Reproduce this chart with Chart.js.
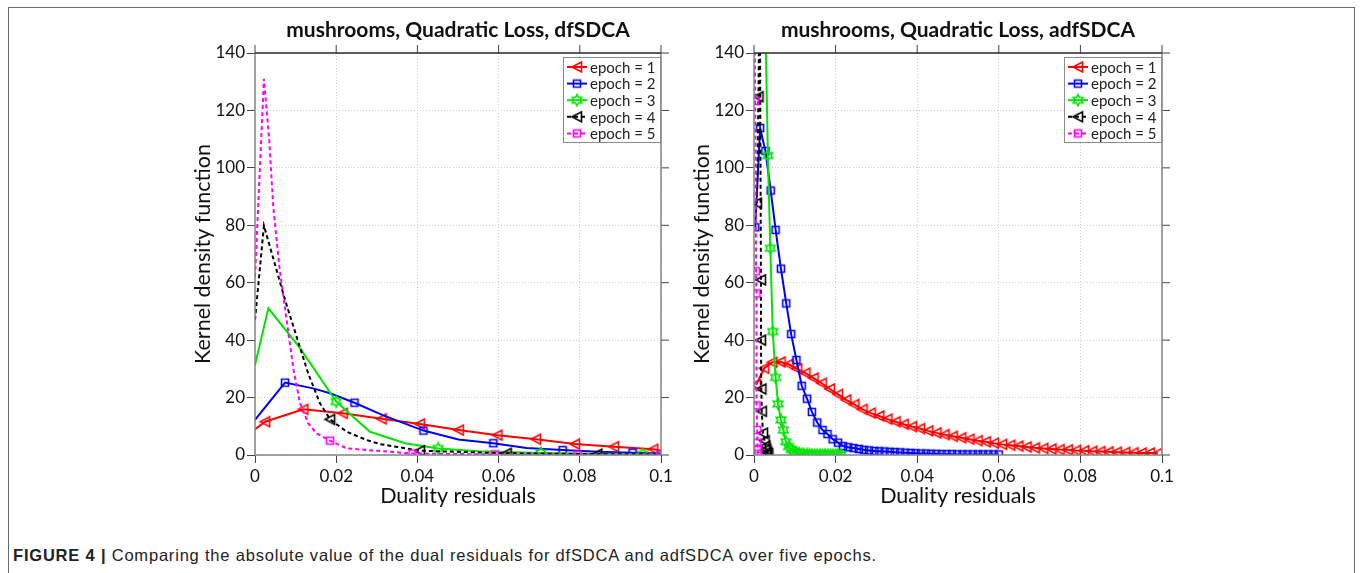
<!DOCTYPE html>
<html>
<head>
<meta charset="utf-8">
<script src="https://cdn.jsdelivr.net/npm/chart.js@4.4.1/dist/chart.umd.min.js"></script>
<style>
  body { margin: 0; width: 1363px; height: 573px; background: #fff; position: relative; overflow: hidden; }
  #frame { position: absolute; left: 8px; top: 7px; width: 1345px; height: 600px; border: 1.5px solid #6b6b6b; border-bottom: none; }
  canvas { position: absolute; top: 0; }
  #c1 { left: 150px; }
  #c2 { left: 649px; }
  #caption { position: absolute; left: 13px; top: 546px; font-family: "Liberation Sans", Arial, sans-serif; font-size: 16.5px; letter-spacing: 0.8px; color: #222; white-space: nowrap; }
</style>
</head>
<body>
<div id="frame"></div>
<canvas id="c1" width="540" height="520"></canvas>
<canvas id="c2" width="540" height="520"></canvas>
<div id="caption"><b>FIGURE 4 |</b> Comparing the absolute value of the dual residuals for dfSDCA and adfSDCA over five epochs.</div>
<script>
// axes
const xTicks = [0, 0.02, 0.04, 0.06, 0.08, 0.1];
const yTicks = [0, 20, 40, 60, 80, 100, 120, 140];
const plotTitles = ['mushrooms, Quadratic Loss, dfSDCA', 'mushrooms, Quadratic Loss, adfSDCA'];
const xTitle = 'Duality residuals';
const yTitle = 'Kernel density function';
const epochNames = ['epoch = 1', 'epoch = 2', 'epoch = 3', 'epoch = 4', 'epoch = 5'];

// dfSDCA (left) - line vertices, marker indices
const dfX1 = [0, 0.0025, 0.0119, 0.0216, 0.0312, 0.0406, 0.0502, 0.0597, 0.0692, 0.0788, 0.0884, 0.0981, 0.1];
const dfY1 = [9.0, 11.6, 15.9, 14.5, 12.6, 10.8, 8.7, 6.9, 5.5, 3.8, 2.9, 2.0, 1.6];
const dfMark1 = [1, 2, 3, 4, 5, 6, 7, 8, 9, 10, 11];

const dfX2 = [0, 0.0074, 0.0143, 0.0185, 0.0245, 0.0316, 0.0415, 0.0501, 0.0587, 0.0669, 0.0758, 0.0845, 0.093, 0.1];
const dfY2 = [12.2, 25.2, 23.2, 21.5, 18.2, 13.8, 8.5, 5.4, 4.1, 2.4, 1.7, 1.1, 0.8, 0.5];
const dfMark2 = [1, 4, 6, 8, 10, 12];

const dfX3 = [0, 0.0033, 0.0111, 0.02, 0.0283, 0.037, 0.0451, 0.055, 0.0704, 0.0955, 0.1];
const dfY3 = [31.3, 51.1, 37.2, 18.6, 8.1, 4.1, 2.3, 1.3, 0.7, 0.3, 0.2];
const dfMark3 = [3, 6, 8, 9];

const dfX4 = [0, 0.0022, 0.0074, 0.0131, 0.016, 0.0185, 0.0226, 0.0275, 0.0308, 0.0406, 0.062, 0.0843, 0.1];
const dfY4 = [47, 79.9, 54, 28.4, 18, 12.4, 8.1, 5.2, 3.8, 1.5, 0.6, 0.3, 0.2];
const dfMark4 = [5, 9, 10, 11];

const dfX5 = [0, 0.0022, 0.0035, 0.0045, 0.006, 0.0078, 0.0095, 0.0111, 0.0131, 0.0152, 0.0185, 0.0226, 0.0388, 0.0591, 0.0795, 0.0998];
const dfY5 = [62, 131, 109.7, 86.5, 65.6, 47, 29.6, 18, 11, 7.5, 5.0, 2.3, 0.5, 0.2, 0.1, 0.05];
const dfMark5 = [10, 12, 13, 14, 15];

// adfSDCA (right) - every point has a marker
const adfX1 = [0.0005, 0.0025, 0.0045, 0.0065, 0.0085, 0.0106, 0.0126, 0.0146, 0.0166, 0.0186, 0.0206, 0.0226, 0.0246, 0.0266, 0.0286, 0.0307, 0.0327, 0.0347, 0.0367, 0.0387, 0.0407, 0.0427, 0.0447, 0.0467, 0.0487, 0.0508, 0.0528, 0.0548, 0.0568, 0.0588, 0.0608, 0.0628, 0.0648, 0.0668, 0.0688, 0.0709, 0.0729, 0.0749, 0.0769, 0.0789, 0.0809, 0.0829, 0.0849, 0.0869, 0.0889, 0.091, 0.093, 0.095, 0.097, 0.099];
const adfY1 = [24.4, 30.2, 32.3, 32.4, 31.6, 30.0, 28.5, 26.8, 25.0, 23.0, 21.1, 19.2, 17.6, 15.9, 14.6, 13.6, 12.5, 11.6, 10.7, 9.9, 9.2, 8.4, 7.7, 7.1, 6.5, 6.0, 5.5, 5.0, 4.6, 4.1, 3.7, 3.4, 3.1, 2.8, 2.5, 2.3, 2.1, 1.9, 1.8, 1.6, 1.5, 1.3, 1.2, 1.1, 1.0, 0.9, 0.8, 0.7, 0.7, 0.6];

const adfX2 = [0.0003, 0.0015, 0.0028, 0.0041, 0.0053, 0.0066, 0.0079, 0.0091, 0.0104, 0.0117, 0.013, 0.0142, 0.0155, 0.0168, 0.018, 0.0193, 0.0206, 0.0218, 0.0231, 0.0244, 0.0257, 0.0269, 0.0282, 0.0295, 0.0307, 0.032, 0.0333, 0.0345, 0.0358, 0.0371, 0.0384, 0.0396, 0.0409, 0.0422, 0.0434, 0.0447, 0.046, 0.0472, 0.0485, 0.0498, 0.0511, 0.0523, 0.0536, 0.0549, 0.0561, 0.0574, 0.0587, 0.06];
const adfY2 = [79.3, 113.9, 105.9, 92.1, 78.4, 64.9, 52.8, 42.1, 33.1, 24.1, 19.6, 15.0, 11.3, 8.7, 7.3, 5.5, 4.3, 3.1, 2.7, 2.4, 2.1, 1.8, 1.6, 1.4, 1.3, 1.2, 1.1, 1.0, 0.9, 0.8, 0.7, 0.6, 0.5, 0.5, 0.4, 0.4, 0.3, 0.3, 0.3, 0.2, 0.2, 0.2, 0.2, 0.2, 0.2, 0.2, 0.2, 0.2];

const adfX3 = [0.0015, 0.0021, 0.0028, 0.0034, 0.004, 0.0046, 0.0053, 0.0059, 0.0066, 0.0072, 0.0078, 0.0085, 0.0091, 0.0098, 0.0104, 0.011, 0.0117, 0.0123, 0.013, 0.0136, 0.0142, 0.0149, 0.0155, 0.0162, 0.0168, 0.0174, 0.0181, 0.0187, 0.0194, 0.02, 0.0206, 0.0213];
const adfY3 = [230, 245, 150, 104.3, 72, 43, 27, 17.8, 12.2, 8.7, 4.6, 2.9, 1.9, 1.2, 0.8, 0.6, 0.4, 0.3, 0.2, 0.2, 0.1, 0.1, 0.1, 0.1, 0.1, 0.1, 0.1, 0.1, 0.1, 0.1, 0.1, 0.1];

const adfX4 = [0.0007, 0.0011, 0.0014, 0.0017, 0.0017, 0.0018, 0.0019, 0.0022, 0.0026, 0.0028, 0.003, 0.0032, 0.0035];
const adfY4 = [87.7, 124.8, 175, 61, 40, 23, 15.2, 7.6, 5.0, 3.1, 1.9, 1.0, 0.5];

const adfX5 = [0.0001, 0.0003, 0.0005, 0.0006, 0.0006, 0.0008, 0.0008, 0.0009, 0.001];
const adfY5 = [160, 123.3, 64, 56.3, 17.3, 8.7, 4.3, 2.0, 0.5];

// styling per epoch
const epochColors = ['#ff0000', '#0000ff', '#00e600', '#000000', '#ff00ff'];
const epochDashes = [[], [], [], [4, 3], [4, 3]];
const epochMarkers = ['tri', 'sq', 'hex', 'tri', 'sq'];

function makeMarker(kind, color) {
  const c = document.createElement('canvas');
  c.width = 14; c.height = 14;
  const g = c.getContext('2d');
  const m = 7;
  g.strokeStyle = color;
  g.lineWidth = 1.6;
  g.beginPath();
  if (kind === 'tri') {
    g.moveTo(m - 5, m); g.lineTo(m + 4.5, m - 5); g.lineTo(m + 4.5, m + 5); g.closePath();
  } else if (kind === 'sq') {
    g.rect(m - 3.5, m - 3.5, 7, 7);
  } else {
    for (let i = 0; i < 12; i++) {
      const r = i % 2 === 0 ? 5.5 : 3.1;
      const ang = -Math.PI / 2 + i * Math.PI / 6;
      const px = m + r * Math.cos(ang), py = m + r * Math.sin(ang);
      if (i === 0) g.moveTo(px, py); else g.lineTo(px, py);
    }
    g.closePath();
  }
  g.stroke();
  return c;
}
const sprites = epochMarkers.map((k, i) => makeMarker(k, epochColors[i]));

function buildDatasets(xs, ys, marks) {
  const out = [];
  for (let k = 0; k < 5; k++) {
    const pts = xs[k].map((x, i) => ({ x: x, y: ys[k][i] }));
    const markPts = marks ? marks[k].map(i => pts[i]) : pts;
    out.push({
      data: pts, showLine: true, borderColor: epochColors[k], borderWidth: 2,
      borderDash: epochDashes[k], pointRadius: 0, order: 5 - k
    });
    out.push({
      data: markPts, showLine: false, pointStyle: sprites[k], pointRadius: 5,
      order: 4.5 - k
    });
  }
  return out;
}

function line(ctx, x1, y1, x2, y2) {
  ctx.beginPath(); ctx.moveTo(x1, y1); ctx.lineTo(x2, y2); ctx.stroke();
}

const framePlugin = {
  id: 'frameAndLegend',
  afterDraw(chart) {
    const { ctx, chartArea: a, scales } = chart;
    ctx.save();
    // ticks on top and right side
    ctx.strokeStyle = '#444';
    ctx.lineWidth = 1;
    xTicks.forEach(v => { const px = scales.x.getPixelForValue(v); line(ctx, px, a.top, px, a.top - 8); });
    yTicks.forEach(v => { const py = scales.y.getPixelForValue(v); line(ctx, a.right, py, a.right + 8, py); });
    // axes box
    ctx.lineWidth = 1.5;
    ctx.strokeStyle = '#858585';
    line(ctx, a.left, a.top, a.left, a.bottom);
    line(ctx, a.left, a.bottom, a.right, a.bottom);
    line(ctx, a.right, a.top, a.right, a.bottom);
    ctx.strokeStyle = '#2a2a2a';
    line(ctx, a.left, a.top, a.right, a.top);

    // legend
    const w = 97, h = 85;
    const left = a.right - w - 1, top = a.top + 4;
    ctx.fillStyle = '#fff';
    ctx.fillRect(left, top, w, h);
    ctx.strokeStyle = '#8c8c8c';
    ctx.lineWidth = 1;
    ctx.strokeRect(left + 0.5, top + 0.5, w, h);
    ctx.font = '15px Lato';
    ctx.textBaseline = 'middle';
    epochNames.forEach((name, k) => {
      const y = top + 10 + k * 16.6;
      ctx.strokeStyle = epochColors[k];
      ctx.lineWidth = 2;
      ctx.setLineDash(epochDashes[k]);
      line(ctx, left + 4, y, left + 24, y);
      ctx.setLineDash([]);
      const m = sprites[k];
      ctx.drawImage(m, left + 14 - m.width / 2, y - m.height / 2);
      ctx.fillStyle = '#222';
      ctx.fillText(name, left + 27, y + 1);
    });
    ctx.restore();
  }
};

Chart.defaults.font.family = 'Lato';
Chart.defaults.color = '#111';

function makeChart(id, title, datasets, rightPad) {
  return new Chart(document.getElementById(id), {
    type: 'scatter',
    data: { datasets: datasets },
    options: {
      responsive: false,
      animation: false,
      devicePixelRatio: 1,
      layout: { padding: { left: 0, right: rightPad, top: 0, bottom: 0 } },
      plugins: {
        legend: { display: false },
        tooltip: { enabled: false },
        title: {
          display: true, text: title, fullSize: false, color: '#111',
          font: { size: 21, weight: 'bold' }, padding: { top: 17.5, bottom: 10.3 }
        }
      },
      scales: {
        x: {
          type: 'linear', min: 0, max: 0.1,
          afterBuildTicks: s => { s.ticks = xTicks.map(v => ({ value: v })); },
          afterFit: s => { s.height = 65; },
          ticks: { font: { size: 17 }, color: '#111', padding: 3, maxRotation: 0,
            callback: v => String(+v.toFixed(2)) },
          grid: { color: '#cfcfcf', tickColor: '#444', tickLength: 8 },
          border: { display: false, dash: [1, 2] },
          title: { display: true, text: xTitle, font: { size: 21.5 }, color: '#111', padding: { bottom: 11 } }
        },
        y: {
          min: 0, max: 140,
          afterBuildTicks: s => { s.ticks = yTicks.map(v => ({ value: v })); },
          afterFit: s => { s.width = 105; },
          ticks: { font: { size: 17 }, color: '#111', padding: 2 },
          grid: { color: '#cfcfcf', tickColor: '#444', tickLength: 8 },
          border: { display: false, dash: [1, 2] },
          title: { display: true, text: yTitle, font: { size: 21.5 }, color: '#111', padding: { top: 40 } }
        }
      }
    },
    plugins: [framePlugin]
  });
}

makeChart('c1', plotTitles[0],
  buildDatasets([dfX1, dfX2, dfX3, dfX4, dfX5], [dfY1, dfY2, dfY3, dfY4, dfY5],
    [dfMark1, dfMark2, dfMark3, dfMark4, dfMark5]), 29);
makeChart('c2', plotTitles[1],
  buildDatasets([adfX1, adfX2, adfX3, adfX4, adfX5], [adfY1, adfY2, adfY3, adfY4, adfY5], null), 27);
</script>
</body>
</html>
